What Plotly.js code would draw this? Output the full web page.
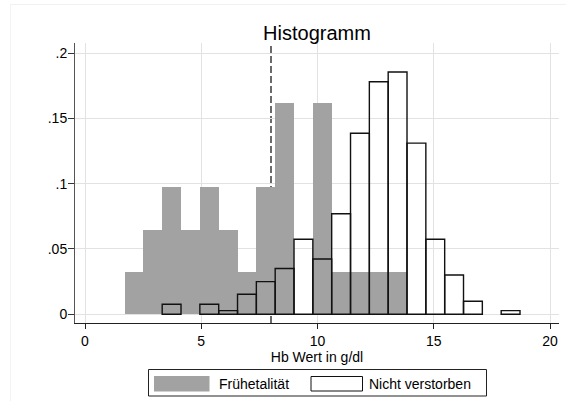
<!DOCTYPE html>
<html>
<head>
<meta charset="utf-8">
<script src="https://cdn.plot.ly/plotly-3.0.1.min.js"></script>
<style>html,body{margin:0;padding:0;background:#fff;}#chart{width:566px;height:401px;}</style>
</head>
<body>
<div id="chart"></div>
<script>
// Histogram bins (left edges, g/dl) and bin width
const binLeft = [1.70, 2.51, 3.32, 4.13, 4.94, 5.75, 6.56, 7.37, 8.18, 8.99, 9.80,
                 10.61, 11.42, 12.23, 13.04, 13.85, 14.66, 15.47, 16.28, 17.09, 17.90];
const binWidth = 0.81;
// Densities (null = empty bin)
const fruehetalitaet = [0.0324, 0.0648, 0.0972, 0.0648, 0.0972, 0.0648, 0.0324, 0.0972, 0.162, null, 0.162,
                        0.0324, 0.0324, 0.0324, 0.0324, null, null, null, null, null, null];
const nichtVerstorben = [null, null, 0.0077, null, 0.0077, 0.0028, 0.0153, 0.025, 0.035, 0.0574, 0.0423,
                         0.077, 0.1386, 0.178, 0.1855, 0.131, 0.0574, 0.0301, 0.0100, null, 0.0028];
const seriesNames = ['Frühetalität', 'Nicht verstorben'];
const cutoff = 8;
const xTicks = [0, 5, 10, 15, 20];
const yTicks = [0, 0.05, 0.1, 0.15, 0.2];
const yTickText = ['0', '.05', '.1', '.15', '.2'];

const W = 566, H = 401;
const M = {l: 75, r: 7, t: 43, b: 78};
const PW = W - M.l - M.r, PH = H - M.t - M.b;
const px = x => (x - M.l) / PW;          // pixel -> paper x
const py = y => (H - M.b - y) / PH;      // pixel -> paper y
const FONT = 'Liberation Sans, Arial, Helvetica, sans-serif';

const traces = [
  {
    type: 'bar', name: seriesNames[0], x: binLeft, y: fruehetalitaet,
    width: binWidth, offset: 0,
    marker: {color: '#a2a2a2', line: {width: 0}},
    showlegend: false, hoverinfo: 'x+y'
  },
  {
    type: 'bar', name: seriesNames[1], x: binLeft, y: nichtVerstorben,
    width: binWidth, offset: 0,
    marker: {color: 'rgba(0,0,0,0)', line: {color: '#111', width: 1.4}},
    showlegend: false, hoverinfo: 'x+y'
  }
];

const shapes = [
  // reference line
  {type: 'line', xref: 'x', yref: 'paper', x0: cutoff, x1: cutoff, y0: 0, y1: 1,
   layer: 'between', line: {color: '#3a3a3a', width: 1.5, dash: '7px,3px'}},
  // faint outer frame (top and left edges only visible)
  {type: 'line', xref: 'paper', yref: 'paper', x0: px(10), x1: px(566), y0: py(4.5), y1: py(4.5),
   line: {color: '#edf2f4', width: 1}, layer: 'below'},
  {type: 'line', xref: 'paper', yref: 'paper', x0: px(10.5), x1: px(10.5), y0: py(4), y1: py(401),
   line: {color: '#f1f4f5', width: 1}, layer: 'below'},
  // legend box
  {type: 'rect', xref: 'paper', yref: 'paper', x0: px(148.5), x1: px(486.5), y0: py(369.5), y1: py(396),
   line: {color: '#222', width: 1}, fillcolor: '#fff'},
  // legend swatches
  {type: 'rect', xref: 'paper', yref: 'paper', x0: px(154), x1: px(209.5), y0: py(376), y1: py(391.5),
   line: {width: 0}, fillcolor: '#a2a2a2'},
  {type: 'rect', xref: 'paper', yref: 'paper', x0: px(311), x1: px(362.5), y0: py(376.5), y1: py(391),
   line: {color: '#111', width: 1}, fillcolor: '#fff'}
];

const annotations = [
  {xref: 'paper', yref: 'paper', x: px(217), y: py(384), xanchor: 'left', yanchor: 'middle',
   text: seriesNames[0], showarrow: false, font: {family: FONT, size: 14, color: '#000'}},
  {xref: 'paper', yref: 'paper', x: px(367), y: py(384), xanchor: 'left', yanchor: 'middle',
   text: seriesNames[1], showarrow: false, font: {family: FONT, size: 14, color: '#000'}}
];

const layout = {
  width: W, height: H,
  margin: M,
  paper_bgcolor: '#fff', plot_bgcolor: '#fff',
  font: {family: FONT, size: 14, color: '#000'},
  barmode: 'overlay', bargap: 0,
  showlegend: false,
  title: {text: 'Histogramm', font: {family: FONT, size: 20, color: '#000'},
          xref: 'paper', x: 0.5, xanchor: 'center', yref: 'container', y: 1 - 33 / H, yanchor: 'middle'},
  xaxis: {
    range: [-0.43, 20.387], tickvals: xTicks, ticktext: xTicks.map(String),
    showgrid: true, gridcolor: '#e2e2e2', gridwidth: 1, zeroline: false,
    showline: true, linecolor: '#222', linewidth: 1,
    ticks: 'outside', ticklen: 5, tickcolor: '#222', tickwidth: 1,
    tickfont: {family: FONT, size: 14, color: '#000'},
    title: {text: 'Hb Wert in g/dl', font: {family: FONT, size: 14, color: '#000'}, standoff: 4},
    automargin: false, fixedrange: true
  },
  yaxis: {
    range: [-0.0067, 0.2077], tickvals: yTicks, ticktext: yTickText,
    showgrid: true, gridcolor: '#e2e2e2', gridwidth: 1, zeroline: false,
    showline: true, linecolor: '#555', linewidth: 1,
    ticks: 'outside', ticklen: 6, tickcolor: '#333', tickwidth: 1,
    ticklabelstandoff: -2,
    tickfont: {family: FONT, size: 14, color: '#000'},
    automargin: false, fixedrange: true
  },
  shapes: shapes,
  annotations: annotations
};

Plotly.newPlot('chart', traces, layout, {displayModeBar: false, staticPlot: true});
</script>
</body>
</html>
